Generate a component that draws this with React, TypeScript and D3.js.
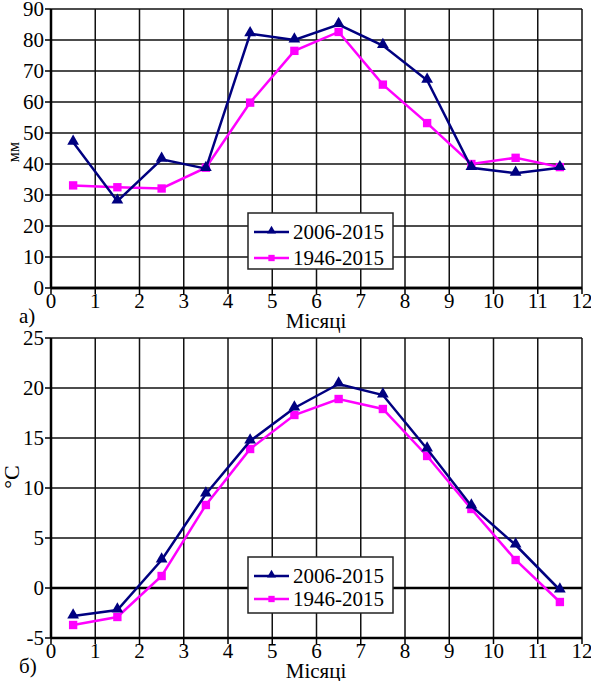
import { useRef, useEffect } from "react";
import * as d3 from "d3";

// місяці: точки в серединах інтервалів
const months = [0.5, 1.5, 2.5, 3.5, 4.5, 5.5, 6.5, 7.5, 8.5, 9.5, 10.5, 11.5];
const xTicks = [0, 1, 2, 3, 4, 5, 6, 7, 8, 9, 10, 11, 12];
const seriesNames = ["2006-2015", "1946-2015"];

// а) опади, мм
const precip2006 = [47, 28, 41.5, 38.5, 82, 80, 85, 78.2, 67, 38.8, 37, 38.8];
const precip1946 = [33.1, 32.5, 32.1, 38.8, 59.8, 76.5, 82.6, 65.6, 53.2, 40, 42, 39];
const precipTicks = [0, 10, 20, 30, 40, 50, 60, 70, 80, 90];

// б) температура, °C
const temp2006 = [-2.8, -2.2, 2.8, 9.4, 14.7, 18, 20.4, 19.3, 13.9, 8.2, 4.3, -0.2];
const temp1946 = [-3.7, -2.9, 1.2, 8.3, 13.9, 17.3, 18.9, 17.9, 13.2, 7.9, 2.8, -1.4];
const tempTicks = [-5, 0, 5, 10, 15, 20, 25];

const FONT = "Liberation Serif, DejaVu Serif, serif";
const NAVY = "#000080";
const PINK = "#ff00ff";

interface PanelCfg {
  top: number;
  bottom: number;
  domain: [number, number];
  ticks: number[];
  a: number[];
  b: number[];
  yTitle: string;
  yTitleSize: number;
  yTitleY: number;
  letter: string;
  legendTop: number;
  legendRow: number;
}

function drawPanel(svg: any, cfg: PanelCfg) {
  const left = 51, right = 582;
  const x = d3.scaleLinear().domain([0, 12]).range([left, right]);
  const y = d3.scaleLinear().domain(cfg.domain).range([cfg.bottom, cfg.top]);
  const g = svg.append("g").style("font-family", FONT);

  // сітка
  g.selectAll(".vg").data(xTicks).join("line")
    .attr("x1", (d: number) => x(d)).attr("x2", (d: number) => x(d))
    .attr("y1", cfg.top).attr("y2", cfg.bottom)
    .attr("stroke", "#111").attr("stroke-width", 1.5);
  g.selectAll(".hg").data(cfg.ticks).join("line")
    .attr("x1", left).attr("x2", right)
    .attr("y1", (d: number) => y(d)).attr("y2", (d: number) => y(d))
    .attr("stroke", "#111").attr("stroke-width", 1.5);

  // осі
  g.append("line").attr("x1", left).attr("x2", left).attr("y1", cfg.top).attr("y2", cfg.bottom)
    .attr("stroke", "#000").attr("stroke-width", 2.5);
  g.append("line").attr("x1", left).attr("x2", right).attr("y1", y(0)).attr("y2", y(0))
    .attr("stroke", "#000").attr("stroke-width", 2.5);
  g.append("line").attr("x1", left).attr("x2", right).attr("y1", cfg.bottom).attr("y2", cfg.bottom)
    .attr("stroke", "#000").attr("stroke-width", 2.5);

  // поділки
  g.selectAll(".yt").data(cfg.ticks).join("line")
    .attr("x1", left - 6).attr("x2", left)
    .attr("y1", (d: number) => y(d)).attr("y2", (d: number) => y(d))
    .attr("stroke", "#000").attr("stroke-width", 1.5);
  g.selectAll(".xt").data(xTicks).join("line")
    .attr("x1", (d: number) => x(d)).attr("x2", (d: number) => x(d))
    .attr("y1", cfg.bottom).attr("y2", cfg.bottom + 6)
    .attr("stroke", "#000").attr("stroke-width", 1.5);

  g.selectAll(".yl").data(cfg.ticks).join("text")
    .attr("x", left - 7).attr("y", (d: number) => y(d) + 7)
    .attr("text-anchor", "end").attr("font-size", 21)
    .text((d: number) => d);
  g.selectAll(".xl").data(xTicks).join("text")
    .attr("x", (d: number) => x(d)).attr("y", cfg.bottom + 20)
    .attr("text-anchor", "middle").attr("font-size", 21)
    .text((d: number) => d);

  g.append("text").attr("x", 316).attr("y", cfg.bottom + 40)
    .attr("text-anchor", "middle").attr("font-size", 21)
    .text("Місяці");
  g.append("text").attr("x", 19).attr("y", cfg.bottom + 35)
    .attr("font-size", 21).text(cfg.letter);
  g.append("text")
    .attr("transform", `translate(19,${cfg.yTitleY}) rotate(-90)`)
    .attr("text-anchor", "middle").attr("font-size", cfg.yTitleSize)
    .text(cfg.yTitle);

  // лінії
  const line = d3.line<number>().x((_, i) => x(months[i])).y((d) => y(d));
  const tri = d3.symbol().type(d3.symbolTriangle).size(60);
  const sq = d3.symbol().type(d3.symbolSquare).size(70);

  g.append("path").attr("d", line(cfg.b)).attr("fill", "none")
    .attr("stroke", PINK).attr("stroke-width", 2.5);
  g.selectAll(".pb").data(cfg.b).join("path")
    .attr("transform", (d: number, i: number) => `translate(${x(months[i])},${y(d)})`)
    .attr("d", sq()).attr("fill", PINK);

  g.append("path").attr("d", line(cfg.a)).attr("fill", "none")
    .attr("stroke", NAVY).attr("stroke-width", 2.5);
  g.selectAll(".pa").data(cfg.a).join("path")
    .attr("transform", (d: number, i: number) => `translate(${x(months[i])},${y(d) - 1})`)
    .attr("d", tri()).attr("fill", NAVY);

  // легенда
  const lx = 248, lw = 145;
  const lg = g.append("g").attr("transform", `translate(${lx},${cfg.legendTop})`);
  lg.append("rect").attr("width", lw).attr("height", 56)
    .attr("fill", "#fff").attr("stroke", "#222").attr("stroke-width", 1.5);
  const markers = [
    d3.symbol().type(d3.symbolTriangle).size(35),
    d3.symbol().type(d3.symbolSquare).size(40),
  ];
  const colors = [NAVY, PINK];
  seriesNames.forEach((name, i) => {
    const cy = 19 + i * cfg.legendRow;
    lg.append("line").attr("x1", 6).attr("x2", 41).attr("y1", cy).attr("y2", cy)
      .attr("stroke", colors[i]).attr("stroke-width", 2.5);
    lg.append("path").attr("transform", `translate(23.5,${cy - (i === 0 ? 1 : 0)})`)
      .attr("d", markers[i]()).attr("fill", colors[i]);
    lg.append("text").attr("x", 45).attr("y", cy + 7).attr("font-size", 21)
      .text(name);
  });
}

export default function App() {
  const svgRef = useRef(null);

  useEffect(() => {
    const svg = d3.select(svgRef.current);
    svg.selectAll("*").remove();
    svg.append("rect").attr("width", 591).attr("height", 681).attr("fill", "#fff");

    drawPanel(svg, {
      top: 9, bottom: 288, domain: [0, 90], ticks: precipTicks,
      a: precip2006, b: precip1946, yTitle: "мм", yTitleSize: 16, yTitleY: 152,
      letter: "а)", legendTop: 213, legendRow: 26,
    });
    drawPanel(svg, {
      top: 338, bottom: 638, domain: [-5, 25], ticks: tempTicks,
      a: temp2006, b: temp1946, yTitle: "°C", yTitleSize: 22, yTitleY: 477,
      letter: "б)", legendTop: 557, legendRow: 23,
    });
  }, []);

  return (
    <svg ref={svgRef} width={591} height={681}
      style={{ position: "absolute", left: 0, top: 0 }} />
  );
}
